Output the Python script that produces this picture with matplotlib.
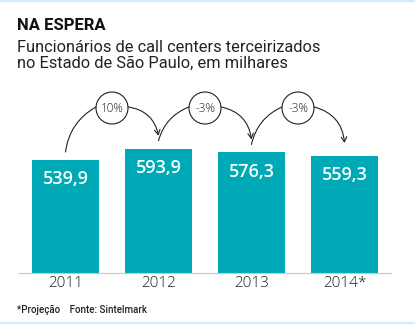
import matplotlib.pyplot as plt
from matplotlib.patches import Ellipse
from matplotlib.lines import Line2D

# dados
anos = ["2011", "2012", "2013", "2014*"]
valores = [539.9, 593.9, 576.3, 559.3]
rotulos = ["539,9", "593,9", "576,3", "559,3"]
variacoes = ["10%", "-3%", "-3%"]

COR_BARRA = "#00a9b6"
COR_BORDA = "#d3ebf6"

W, H = 415, 325
fig = plt.figure(figsize=(W / 100, H / 100), dpi=100)
fig.patch.set_facecolor("white")

# eixo em pixels: base em y=273, topo em y=80, de x=19 a x=391
base_px, topo_px = 273, 80
ax = fig.add_axes([19 / W, (H - base_px) / H, 372 / W, (base_px - topo_px) / H])
px_por_unid = 113 / 539.9
ax.set_ylim(0, (base_px - topo_px) / px_por_unid)
ax.set_xlim(-0.5, 3.5)
px_x = 93  # pixels por categoria

xs = list(range(len(valores)))
ax.bar(xs, valores, width=0.72, color=COR_BARRA, zorder=2)

for x, v, r in zip(xs, valores, rotulos):
    ax.annotate(r, (x, v), xytext=(0, -14), textcoords="offset points",
                ha="center", va="center", color="white", fontsize=13,
                fontweight="semibold", family="Open Sans")

for s in ["top", "left", "right"]:
    ax.spines[s].set_visible(False)
ax.spines["bottom"].set_color("#c8c8c8")
ax.spines["bottom"].set_linewidth(0.8)
ax.set_yticks([])
ax.set_xticks(xs)
ax.set_xticklabels(anos, fontsize=11, family="Open Sans", fontweight="light",
                   color="#222222")
ax.tick_params(axis="x", length=0, pad=2)

# círculos com variação e setas curvas
circ_y = (base_px - 108) / px_por_unid
raio_px = 16
rx = raio_px / px_x
ry = raio_px / px_por_unid
gap_ini = 8 / px_por_unid
gap_fim = 13 / px_por_unid
for i, txt in enumerate(variacoes):
    cx = i + 0.5
    ax.add_patch(Ellipse((cx, circ_y), 2 * rx, 2 * ry, facecolor="white",
                         edgecolor="#222222", lw=0.8, zorder=3))
    ax.text(cx, circ_y, txt, ha="center", va="center", fontsize=8.5,
            family="Open Sans", fontweight="light", color="#222222", zorder=4)
    ax.annotate("", xy=(cx - rx, circ_y + 5), xytext=(i, valores[i] + gap_ini),
                arrowprops=dict(arrowstyle="-", color="#222222", lw=0.8,
                                shrinkA=0, shrinkB=0,
                                connectionstyle="arc3,rad=-0.25"))
    ax.annotate("", xy=(i + 1, valores[i + 1] + gap_fim), xytext=(cx + rx, circ_y + 5),
                arrowprops=dict(arrowstyle="->,head_length=0.35,head_width=0.2",
                                color="#222222", lw=0.8, shrinkA=0, shrinkB=0,
                                connectionstyle="arc3,rad=-0.35"))

# títulos
fig.text(17 / W, 1 - 26 / H, "NA ESPERA", fontsize=12, fontweight="bold",
         family="Roboto", color="#111111", va="center")
fig.text(17 / W, 1 - 47 / H, "Funcionários de call centers terceirizados",
         fontsize=11.8, family="Roboto", color="#222222", va="center")
fig.text(17 / W, 1 - 63 / H, "no Estado de São Paulo, em milhares",
         fontsize=11.8, family="Roboto", color="#222222", va="center")
fig.text(17 / W, 1 - 310 / H, "*Projeção    Fonte: Sintelmark", fontsize=7,
         family="Roboto", fontweight="medium", color="#222222", va="center")

# bordas azul-claras
fig.add_artist(Line2D([0, 1], [1 - 1 / H, 1 - 1 / H], transform=fig.transFigure,
                      color=COR_BORDA, lw=1.5))
fig.add_artist(Line2D([0, 1], [2 / H, 2 / H], transform=fig.transFigure,
                      color=COR_BORDA, lw=1.5))

fig.savefig("out.png", dpi=100)
